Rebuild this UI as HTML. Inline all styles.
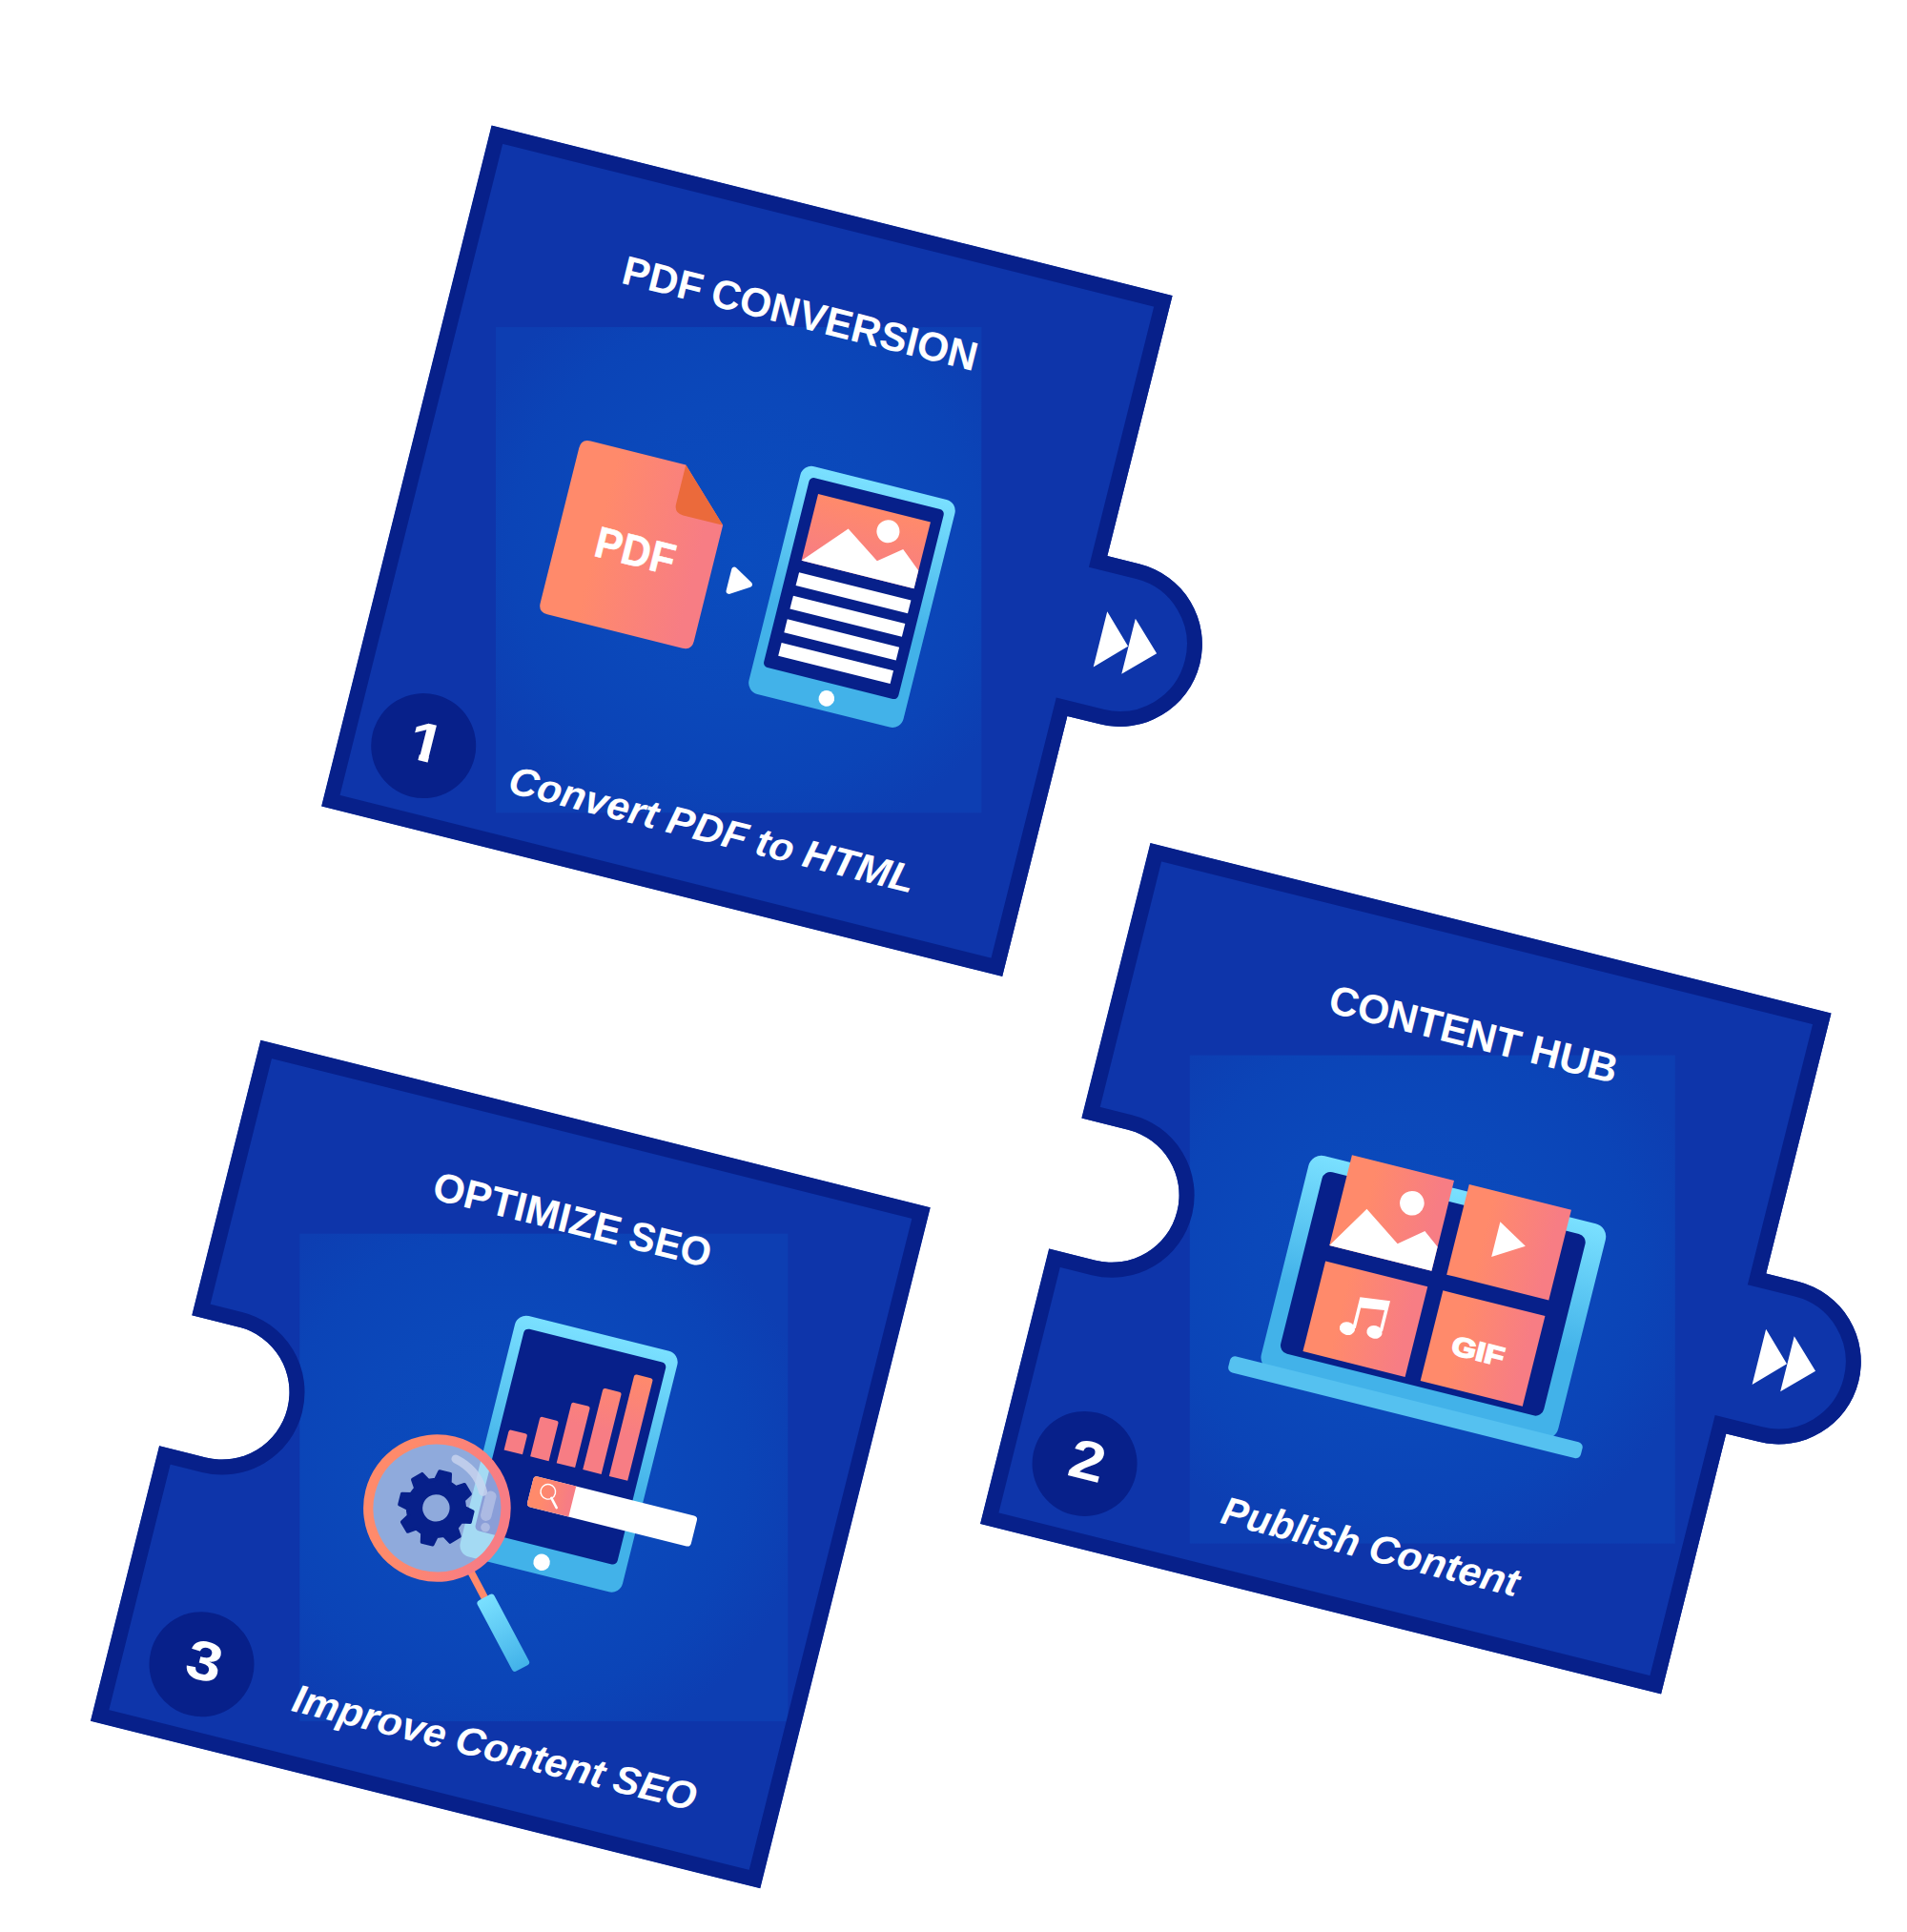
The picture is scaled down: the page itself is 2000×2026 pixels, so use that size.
<!DOCTYPE html>
<html lang="en"><head><meta charset="utf-8"><title>PDF Conversion, Content Hub, Optimize SEO</title>
<style>
html,body{margin:0;padding:0;background:#fff}
svg{display:block}
text{font-family:"Liberation Sans",sans-serif;font-weight:700;fill:#fff}
.it{font-style:italic}
</style></head><body>
<svg width="2000" height="2026" viewBox="0 0 2000 2026">
<defs>
<linearGradient id="coral" x1="0" y1="0" x2="1" y2="0"><stop offset="0.25" stop-color="#FF8A6B"/><stop offset="0.9" stop-color="#F77D84"/></linearGradient>
<linearGradient id="coralv" x1="0" y1="0" x2="0" y2="1"><stop offset="0" stop-color="#FF8A6B"/><stop offset="1" stop-color="#F77D84"/></linearGradient>
<linearGradient id="cyan" x1="0" y1="0" x2="0" y2="1"><stop offset="0" stop-color="#7AE0FF"/><stop offset="0.6" stop-color="#42B2E9"/><stop offset="1" stop-color="#42B2E9"/></linearGradient>
<radialGradient id="glow1" gradientUnits="userSpaceOnUse" cx="783.35" cy="577.75" r="318"><stop offset="0" stop-color="#0A4CBE"/><stop offset="0.5" stop-color="#0B48BA"/><stop offset="0.78" stop-color="#0B44B7"/><stop offset="1" stop-color="#0D3EB2"/></radialGradient>
<radialGradient id="glow2" gradientUnits="userSpaceOnUse" cx="1474.25" cy="1330.25" r="318"><stop offset="0" stop-color="#0A4CBE"/><stop offset="0.5" stop-color="#0B48BA"/><stop offset="0.78" stop-color="#0B44B7"/><stop offset="1" stop-color="#0D3EB2"/></radialGradient>
<radialGradient id="glow3" gradientUnits="userSpaceOnUse" cx="535.3" cy="1535.5" r="318"><stop offset="0" stop-color="#0A4CBE"/><stop offset="0.5" stop-color="#0B48BA"/><stop offset="0.78" stop-color="#0B44B7"/><stop offset="1" stop-color="#0D3EB2"/></radialGradient>
<clipPath id="cp1"><path d="M-368,-368 H368 V-86.5 h35 a86.5,86.5 0 0 1 0,173 h-35 V368 H-368 Z"/></clipPath>
<clipPath id="cp2"><path d="M-368,-368 H368 V-86.5 h35 a86.5,86.5 0 0 1 0,173 h-35 V368 H-368 V70.6 h50.3 a70.6,70.6 0 0 0 0,-141.2 h-50.3 Z"/></clipPath>
<clipPath id="cp3"><path d="M-368,-368 H356 V368 H-368 V70.6 h50.3 a70.6,70.6 0 0 0 0,-141.2 h-50.3 Z"/></clipPath>
<clipPath id="lens"><circle cx="-69.5" cy="63.3" r="68.5"/></clipPath>
<clipPath id="one"><path d="M-30,-60 H30 V-7.6 H5.7 V3 H-3.4 V-7.6 H-30 Z"/></clipPath>
<linearGradient id="barg" gradientUnits="userSpaceOnUse" x1="0" y1="-125" x2="0" y2="-13"><stop offset="0" stop-color="#FF8A6B"/><stop offset="0.6" stop-color="#F77D84"/></linearGradient><linearGradient id="cyanh" x1="0" y1="0" x2="1" y2="0"><stop offset="0" stop-color="#7AE0FF"/><stop offset="1" stop-color="#42B2E9"/></linearGradient>
</defs>
<g transform="translate(783.35,577.75) rotate(14.03)">
<path d="M-368,-368 H368 V-86.5 h35 a86.5,86.5 0 0 1 0,173 h-35 V368 H-368 Z" fill="#0E35AA"/>
</g>
<rect x="520" y="343" width="509.3" height="509.3" fill="url(#glow1)"/>
<g transform="translate(783.35,577.75) rotate(14.03)">
<path d="M-368,-368 H368 V-86.5 h35 a86.5,86.5 0 0 1 0,173 h-35 V368 H-368 Z" fill="none" stroke="#07208A" stroke-width="32" clip-path="url(#cp1)"/>
</g>
<g transform="translate(1474.25,1330.25) rotate(14.03)">
<path d="M-368,-368 H368 V-86.5 h35 a86.5,86.5 0 0 1 0,173 h-35 V368 H-368 V70.6 h50.3 a70.6,70.6 0 0 0 0,-141.2 h-50.3 Z" fill="#0E35AA"/>
</g>
<rect x="1247.8" y="1106.6" width="509" height="512" fill="url(#glow2)"/>
<g transform="translate(1474.25,1330.25) rotate(14.03)">
<path d="M-368,-368 H368 V-86.5 h35 a86.5,86.5 0 0 1 0,173 h-35 V368 H-368 V70.6 h50.3 a70.6,70.6 0 0 0 0,-141.2 h-50.3 Z" fill="none" stroke="#07208A" stroke-width="32" clip-path="url(#cp2)"/>
</g>
<g transform="translate(541.15,1536.95) rotate(14.03)">
<path d="M-368,-368 H356 V368 H-368 V70.6 h50.3 a70.6,70.6 0 0 0 0,-141.2 h-50.3 Z" fill="#0E35AA"/>
</g>
<rect x="314.3" y="1293.7" width="512" height="511.3" fill="url(#glow3)"/>
<g transform="translate(541.15,1536.95) rotate(14.03)">
<path d="M-368,-368 H356 V368 H-368 V70.6 h50.3 a70.6,70.6 0 0 0 0,-141.2 h-50.3 Z" fill="none" stroke="#07208A" stroke-width="32" clip-path="url(#cp3)"/>
</g>
<g transform="translate(783.35,577.75) rotate(14.03)">
<text y="-240.5" font-size="42.5"><tspan x="-197.4" textLength="85.4" lengthAdjust="spacingAndGlyphs">PDF</tspan> <tspan x="-101.3" textLength="286.3" lengthAdjust="spacingAndGlyphs">CONVERSION</tspan></text>
<path d="M382,-30 L412,0 L382,30Z M412.5,-30 L443,0 L412.5,30Z" fill="#fff"/>
<circle cx="-279.5" cy="280.4" r="55" fill="#07208A"/>
<text transform="translate(-277.6,296.4) scale(1.15,1)" x="0" y="0" font-size="58" text-anchor="middle" clip-path="url(#one)">1</text>
<text class="it" y="306.5" font-size="41.5"><tspan x="-183.2" textLength="159.8" lengthAdjust="spacingAndGlyphs">Convert</tspan> <tspan x="-12.6" textLength="86.1" lengthAdjust="spacingAndGlyphs">PDF</tspan> <tspan x="83.8" textLength="40.0" lengthAdjust="spacingAndGlyphs">to</tspan> <tspan x="134.7" textLength="119.4" lengthAdjust="spacingAndGlyphs">HTML</tspan></text>
<path d="M-187,-72 H-84 L-31,-20 V105.3 Q-31,115.3 -41,115.3 H-187 Q-197,115.3 -197,105.3 V-62 Q-197,-72 -187,-72Z" fill="url(#coral)"/>
<path d="M-84,-72 L-31,-20 H-74 Q-84,-20 -84,-30Z" fill="#EB6A3B"/>
<text x="-156" y="44" font-size="46" textLength="85" lengthAdjust="spacingAndGlyphs" stroke="#fff" stroke-width="0.5" stroke-linejoin="round">PDF</text>
<path d="M-8,22.5 V45.5 L11,33.5Z" fill="#fff" stroke="#fff" stroke-width="6" stroke-linejoin="round"/>
<rect x="35" y="-103" width="167" height="246" rx="12" fill="url(#cyan)"/>
<rect x="45.5" y="-91.5" width="145.5" height="205" rx="5" fill="#07208A"/>
<rect x="58" y="-76" width="121.5" height="71.8" fill="url(#coralv)"/>
<path d="M58,-4.2 L97.5,-48.4 L135,-22.8 L158.5,-41.5 L179.5,-23.6 V-4.2Z" fill="#fff"/>
<circle cx="138.7" cy="-55.8" r="12" fill="#fff"/>
<rect x="58.5" y="8.5" width="121" height="14.2" fill="#fff"/>
<rect x="58.5" y="33.8" width="121" height="14.2" fill="#fff"/>
<rect x="58.5" y="59.2" width="121" height="14.2" fill="#fff"/>
<rect x="58.5" y="84.5" width="121" height="14.2" fill="#fff"/>
<circle cx="118.5" cy="129.8" r="8.3" fill="#fff"/>
</g>
<g transform="translate(1474.25,1330.25) rotate(14.03)">
<text y="-241.2" font-size="42.5"><tspan x="-145.7" textLength="205.6" lengthAdjust="spacingAndGlyphs">CONTENT</tspan> <tspan x="72.2" textLength="92.4" lengthAdjust="spacingAndGlyphs">HUB</tspan></text>
<path d="M382,-30 L412,0 L382,30Z M412.5,-30 L443,0 L412.5,30Z" fill="#fff"/>
<circle cx="-277" cy="280.2" r="55" fill="#07208A"/>
<text transform="translate(-274.8,296.2) scale(1.15,1)" x="0" y="0" font-size="58" text-anchor="middle">2</text>
<text class="it" y="306" font-size="41.5"><tspan x="-125.0" textLength="147.9" lengthAdjust="spacingAndGlyphs">Publish</tspan> <tspan x="34.1" textLength="161.0" lengthAdjust="spacingAndGlyphs">Content</tspan></text>
<rect x="-125" y="-94" width="321" height="232" rx="14" fill="url(#cyan)"/>
<rect x="-108" y="-79.3" width="284.4" height="196.3" rx="9" fill="#07208A"/>
<rect x="-155.5" y="132.5" width="381" height="17.5" rx="5.5" fill="#55C1F0"/>
<rect x="-83.5" y="-101.8" width="110.4" height="97.6" fill="url(#coral)"/>
<rect x="43.2" y="-101.8" width="110.4" height="97.6" fill="url(#coral)"/>
<rect x="-83.5" y="12.8" width="110.4" height="97.6" fill="url(#coral)"/>
<rect x="43.5" y="12.8" width="110.4" height="97.6" fill="url(#coral)"/>
<path d="M-83.5,-4.2 L-54.7,-50.7 L-14.6,-23.1 L10,-42.9 L26.9,-30.2 V-4.2Z" fill="#fff"/>
<circle cx="-10.2" cy="-68.1" r="12.8" fill="#fff"/>
<path d="M84.3,-71.5 V-33.6 L116.2,-53.2Z" fill="#fff"/>
<path d="M-39.2,40.7 L-7.5,37 V70 H-11 V47.8 L-35.7,51.4 V73.6 H-39.2Z" fill="#fff"/>
<ellipse cx="-44.2" cy="75.8" rx="8.2" ry="6.8" fill="#fff"/><ellipse cx="-15.6" cy="72.6" rx="8.2" ry="6.8" fill="#fff"/>
<text x="66.7" y="75.4" font-size="28" textLength="55.7" lengthAdjust="spacingAndGlyphs" stroke="#fff" stroke-width="1.6">GIF</text>
</g>
<g transform="translate(541.15,1536.95) rotate(14.03)">
<text y="-250" font-size="42.5"><tspan x="-154.5" textLength="201.7" lengthAdjust="spacingAndGlyphs">OPTIMIZE</tspan> <tspan x="57.2" textLength="87.3" lengthAdjust="spacingAndGlyphs">SEO</tspan></text>
<circle cx="-269.3" cy="282" r="55" fill="#07208A"/>
<text transform="translate(-267.1,298.0) scale(1.15,1)" x="0" y="0" font-size="58" text-anchor="middle">3</text>
<text class="it" y="306.5" font-size="41.5"><tspan x="-167.4" textLength="164.9" lengthAdjust="spacingAndGlyphs">Improve</tspan> <tspan x="8.7" textLength="160.0" lengthAdjust="spacingAndGlyphs">Content</tspan> <tspan x="179.3" textLength="88.2" lengthAdjust="spacingAndGlyphs">SEO</tspan></text>
<rect x="-37" y="-155.5" width="175.5" height="260.3" rx="12" fill="url(#cyan)"/>
<rect x="-26" y="-142.3" width="153.5" height="218.3" rx="5" fill="#07208A"/>
<path d="M-16.2,-13 V-32.5 q0,-2.5 2.5,-2.5 h15 q2.5,0 2.5,2.5 V-13Z" fill="url(#barg)"/>
<path d="M12.2,-13 V-53.7 q0,-2.5 2.5,-2.5 h15 q2.5,0 2.5,2.5 V-13Z" fill="url(#barg)"/>
<path d="M40.6,-13 V-76.3 q0,-2.5 2.5,-2.5 h15 q2.5,0 2.5,2.5 V-13Z" fill="url(#barg)"/>
<path d="M69.0,-13 V-98.7 q0,-2.5 2.5,-2.5 h15 q2.5,0 2.5,2.5 V-13Z" fill="url(#barg)"/>
<path d="M97.4,-13 V-120.8 q0,-2.5 2.5,-2.5 h15 q2.5,0 2.5,2.5 V-13Z" fill="url(#barg)"/>
<circle cx="50.7" cy="91.8" r="8.7" fill="#fff"/>
<g transform="translate(-69.5,63.3) rotate(48)"><rect x="70" y="-3.8" width="40" height="7.6" fill="#FF8A6B"/><rect x="106" y="-10" width="84" height="20" rx="3.5" fill="url(#cyanh)"/></g>
<circle cx="-69.5" cy="63.3" r="68.5" fill="#8FAADC"/>
<g clip-path="url(#lens)">
<rect x="-37" y="-155.5" width="175.5" height="260.3" rx="12" fill="#A4DAF3"/>
<rect x="-26" y="-142.3" width="153.5" height="218.3" rx="5" fill="#8A9ED8"/>
<rect x="-23.5" y="32" width="11.5" height="32" rx="5.7" fill="#ACBAE3"/><circle cx="-15.5" cy="70.5" r="4.8" fill="#ACBAE3"/>
<path d="M-63,8.5 Q-38,14 -27,35" fill="none" stroke="#C9D4EF" stroke-opacity="0.8" stroke-width="9" stroke-linecap="round"/>
</g>
<circle cx="-69.5" cy="63.3" r="72.1" fill="none" stroke="url(#coral)" stroke-width="10.4"/>
<path d="M-78.2,34.4 L-76.3,25.2 L-64.7,25.2 L-62.8,34.4 L-55.5,37.4 L-47.6,32.3 L-39.4,40.5 L-44.5,48.4 L-41.5,55.7 L-32.3,57.6 L-32.3,69.2 L-41.5,71.1 L-44.5,78.4 L-39.4,86.3 L-47.6,94.5 L-55.5,89.4 L-62.8,92.4 L-64.7,101.6 L-76.3,101.6 L-78.2,92.4 L-85.5,89.4 L-93.4,94.5 L-101.6,86.3 L-96.5,78.4 L-99.5,71.1 L-108.7,69.2 L-108.7,57.6 L-99.5,55.7 L-96.5,48.4 L-101.6,40.5 L-93.4,32.3 L-85.5,37.4Z" fill="#07208A" stroke="#07208A" stroke-width="3.5" stroke-linejoin="round"/>
<circle cx="-70.5" cy="63.4" r="14.2" fill="#8FAADC"/>
<rect x="21" y="5.7" width="177" height="32.9" rx="4" fill="#fff"/>
<path d="M25,5.7 H66.5 V38.6 H25 q-4,0 -4,-4 V9.7 q0,-4 4,-4Z" fill="url(#coral)"/>
<circle cx="39.3" cy="18.4" r="7.8" fill="none" stroke="#fff" stroke-width="1.4"/><path d="M44.3,24 L52,32.6" stroke="#fff" stroke-width="2.6" stroke-linecap="round"/>
</g>
</svg></body></html>
